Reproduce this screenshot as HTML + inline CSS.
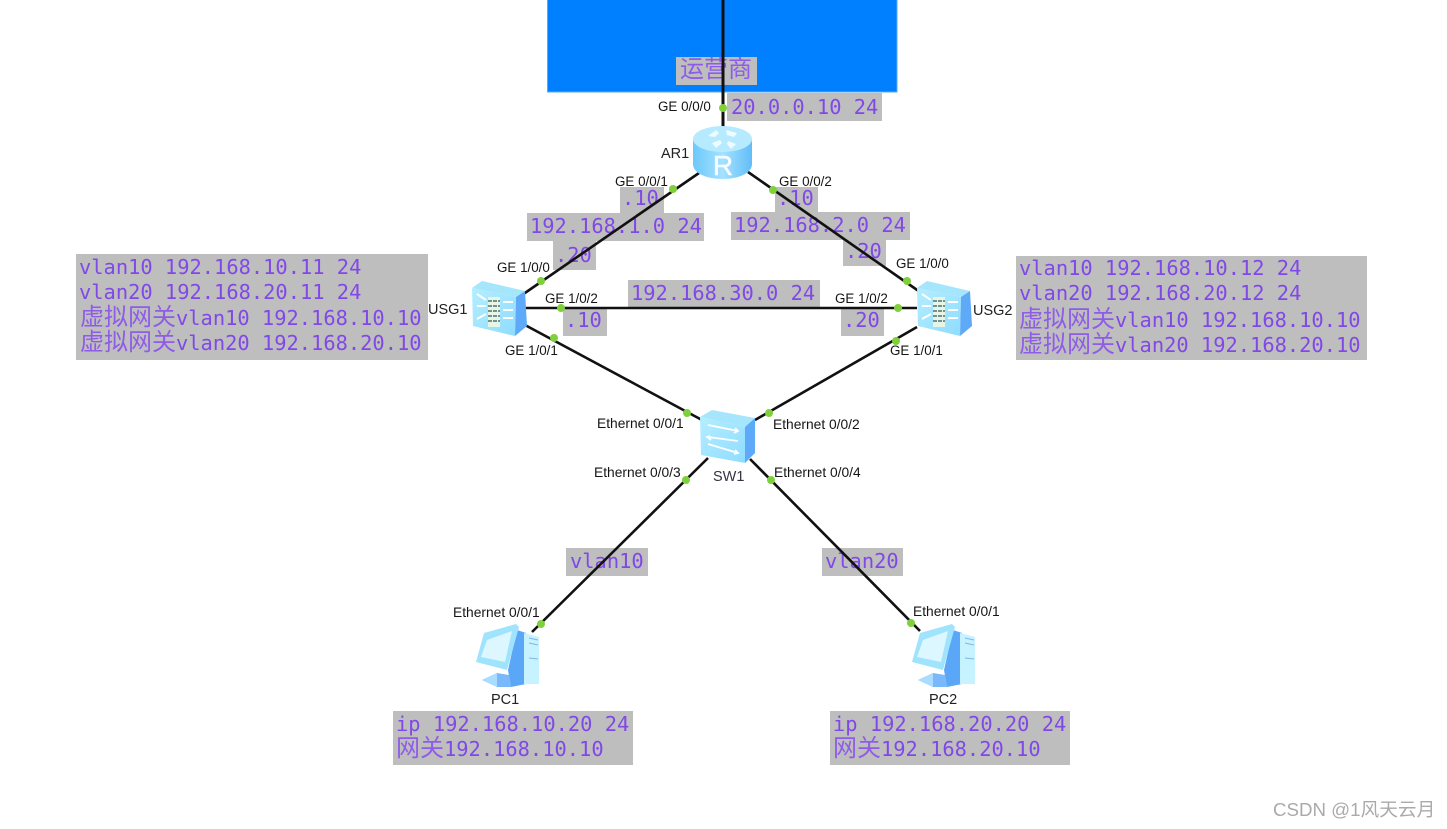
<!DOCTYPE html>
<html>
<head>
<meta charset="utf-8">
<style>
html,body{margin:0;padding:0;background:#fff;width:1447px;height:829px;overflow:hidden}
svg{display:block}
.m{font-family:"DejaVu Sans Mono","Noto Sans CJK SC",monospace;font-size:20.4px;fill:#8148e8}
.c{font-family:"Noto Sans CJK SC","WenQuanYi Zen Hei",sans-serif;font-size:24px;fill:#8f5ce8}
.l{font-family:"Liberation Sans",sans-serif;font-size:13.4px;fill:#151515}
.e{font-family:"Liberation Sans",sans-serif;font-size:13.8px;fill:#151515}
.n{font-family:"Liberation Sans",sans-serif;font-size:14.500px;fill:#222}
.w{font-family:"Liberation Sans","Noto Sans CJK SC",sans-serif;font-size:18.700px;fill:#aaa}
</style>
</head>
<body>
<svg width="1447" height="829" viewBox="0 0 1447 829" xmlns="http://www.w3.org/2000/svg">
<defs>
<linearGradient id="rs" x1="0" x2="1" y1="0" y2="0"><stop offset="0" stop-color="#6cc8fb"/><stop offset=".5" stop-color="#a4e2ff"/><stop offset="1" stop-color="#62bdf8"/></linearGradient>
<linearGradient id="ff" x1="0" x2="1" y1="0" y2="1"><stop offset="0" stop-color="#b4eeff"/><stop offset="1" stop-color="#8fdcff"/></linearGradient>
<g id="usg">
<polygon points="0,7 10,0 53,10 44,16" fill="#a5e6fc"/>
<polygon points="0,7 44,16 43,55 1,45" fill="url(#ff)"/>
<polygon points="44,16 53,10 55,45 43,55" fill="#5ea9f8"/>
<rect x="16" y="16" width="12" height="30" fill="#e6f5e6"/>
<path d="M16 20h12M16 25h12M16 30h12M16 35h12M16 40h12" stroke="#76918c" stroke-width="2" stroke-dasharray="4 1"/>
<path d="M5 13l9 6M5 25h9M5 38l9-5M31 21h10M31 29h10M31 37h10" stroke="#fff" stroke-width="2" fill="none"/>
</g>
<g id="pc">
<polygon points="53,15 62,18 62,69 47,72 44,55" fill="#5aa6f7"/>
<polygon points="60,18 75,22 75,69 60,69" fill="#c6f3ff"/>
<path d="M65 23l9 2M65 28l9 2M65 43l9 1" stroke="#7fb8e8" stroke-width="1"/>
<polygon points="18,65 33,58 45,60 47,72 33,72" fill="#79b9fb"/>
<polygon points="18,65 33,58 33,72" fill="#a9dcff"/>
<polygon points="20,18 52,9 55,12 43,55 12,47" fill="#9fe3fd"/>
<polygon points="23,25 48,16 41,47 17,42" fill="#dcf7ff"/>
</g>
</defs>

<rect width="1447" height="829" fill="#fff"/>
<rect x="547.500" y="-2" width="349.500" height="94" fill="#0080ff" stroke="#5aa8f8" stroke-width="1"/>

<g fill="#bebebe">
<rect x="676" y="57" width="81" height="28"/>
<rect x="727" y="93" width="155" height="28"/>
<rect x="620" y="187" width="44" height="26"/>
<rect x="527" y="213" width="177" height="28"/>
<rect x="553" y="241" width="43" height="29"/>
<rect x="775" y="187" width="43" height="25"/>
<rect x="731" y="212" width="179" height="28"/>
<rect x="843" y="240" width="43" height="26"/>
<rect x="76" y="254" width="352" height="106"/>
<rect x="1016" y="256" width="351" height="104"/>
<rect x="563" y="309" width="44" height="27"/>
<rect x="628" y="280" width="192" height="28"/>
<rect x="841" y="309" width="43" height="27"/>
<rect x="566" y="548" width="82" height="28"/>
<rect x="822" y="548" width="81" height="28"/>
<rect x="393" y="711" width="240" height="54"/>
<rect x="830" y="711" width="240" height="54"/>
</g>

<g>
<text class="c" x="680" y="77">运营商</text>
<text class="m" x="731" y="114">20.0.0.10 24</text>
<text class="m" x="622" y="205">.10</text>
<text class="m" x="530" y="233">192.168.1.0 24</text>
<text class="m" x="555" y="262">.20</text>
<text class="m" x="777" y="205">.10</text>
<text class="m" x="734" y="232">192.168.2.0 24</text>
<text class="m" x="845" y="258">.20</text>
<text class="m" x="631" y="300">192.168.30.0 24</text>
<text class="m" x="565" y="327">.10</text>
<text class="m" x="843" y="327">.20</text>

<text class="m" x="79" y="274">vlan10 192.168.10.11 24</text>
<text class="m" x="79" y="299">vlan20 192.168.20.11 24</text>
<text class="m" x="80" y="325"><tspan class="c">虚拟网关</tspan>vlan10 192.168.10.10</text>
<text class="m" x="80" y="350"><tspan class="c">虚拟网关</tspan>vlan20 192.168.20.10</text>

<text class="m" x="1019" y="275">vlan10 192.168.10.12 24</text>
<text class="m" x="1019" y="300">vlan20 192.168.20.12 24</text>
<text class="m" x="1019" y="327"><tspan class="c">虚拟网关</tspan>vlan10 192.168.10.10</text>
<text class="m" x="1019" y="352"><tspan class="c">虚拟网关</tspan>vlan20 192.168.20.10</text>

<text class="m" x="570" y="568">vlan10</text>
<text class="m" x="825" y="568">vlan20</text>
<text class="m" x="396" y="731">ip 192.168.10.20 24</text>
<text class="m" x="396" y="756"><tspan class="c">网关</tspan>192.168.10.10</text>
<text class="m" x="833" y="731">ip 192.168.20.20 24</text>
<text class="m" x="833" y="756"><tspan class="c">网关</tspan>192.168.20.10</text>
</g>

<g stroke="#111" stroke-width="2.600" fill="none">
<line x1="723" y1="0" x2="723" y2="130" stroke-width="3"/>
<line x1="699" y1="173" x2="522" y2="295"/>
<line x1="748" y1="172" x2="920" y2="292"/>
<line x1="525" y1="308" x2="917" y2="308"/>
<line x1="525" y1="325" x2="702" y2="420"/>
<line x1="917" y1="327" x2="755" y2="420"/>
<line x1="708" y1="458" x2="532" y2="632"/>
<line x1="750" y1="459" x2="920" y2="631"/>
</g>

<!-- Router -->
<g>
<path d="M693 139v25c0 9 13 15 29.500 15s29.500-6 29.500-15v-25z" fill="url(#rs)"/>
<ellipse cx="722.500" cy="139" rx="29.500" ry="13" fill="#b6ebff"/>
<path d="M708 136l8-6 3 3-4 4zM726 130l11 3-3 4-7-2zM712 143l8-3 2 3-6 5zM728 141l8 3-5 5-4-5z" fill="#f0fbff"/>
<text x="723" y="175" text-anchor="middle" font-family="Liberation Sans,sans-serif" font-size="28" fill="#f6fcff" stroke="#f6fcff" stroke-width=".5">R</text>
</g>

<use href="#usg" x="472" y="281"/>
<use href="#usg" x="917" y="281"/>

<!-- Switch -->
<g>
<polygon points="700,417 712,410 755,418 745,427" fill="#a5e6fc"/>
<polygon points="700,417 745,427 745,463 701,455" fill="url(#ff)"/>
<polygon points="745,427 755,418 755,453 745,463" fill="#5ea9f8"/>
<path d="M708 425l30 6M708 437l30 4M708 444l30 9M710 436l-3 1 4 3M735 428l3 3-4 2M735 450l3 3-4 1" stroke="#fff" stroke-width="1.800" fill="none"/>
</g>

<use href="#pc" x="464" y="615"/>
<use href="#pc" x="900" y="615"/>

<g fill="#7fd13b">
<circle cx="723" cy="108" r="4"/>
<circle cx="673" cy="189" r="4"/>
<circle cx="773" cy="190" r="4"/>
<circle cx="541" cy="281" r="4"/>
<circle cx="907" cy="281" r="4"/>
<circle cx="561" cy="308" r="4"/>
<circle cx="898" cy="308" r="4"/>
<circle cx="554" cy="338" r="4"/>
<circle cx="896" cy="341" r="4"/>
<circle cx="687" cy="413" r="4"/>
<circle cx="769" cy="413" r="4"/>
<circle cx="686" cy="480" r="4"/>
<circle cx="771" cy="480" r="4"/>
<circle cx="541" cy="624" r="4"/>
<circle cx="911" cy="623" r="4"/>
</g>

<g>
<text class="l" x="658" y="111">GE 0/0/0</text>
<text class="l" x="615" y="186">GE 0/0/1</text>
<text class="l" x="779" y="186">GE 0/0/2</text>
<text class="l" x="497" y="272">GE 1/0/0</text>
<text class="l" x="896" y="268">GE 1/0/0</text>
<text class="l" x="545" y="303">GE 1/0/2</text>
<text class="l" x="835" y="303">GE 1/0/2</text>
<text class="l" x="505" y="355">GE 1/0/1</text>
<text class="l" x="890" y="355">GE 1/0/1</text>
<text class="e" x="597" y="428">Ethernet 0/0/1</text>
<text class="e" x="773" y="429">Ethernet 0/0/2</text>
<text class="e" x="594" y="477">Ethernet 0/0/3</text>
<text class="e" x="774" y="477">Ethernet 0/0/4</text>
<text class="e" x="453" y="617">Ethernet 0/0/1</text>
<text class="e" x="913" y="616">Ethernet 0/0/1</text>
</g>
<text class="n" x="661" y="158">AR1</text>
<text class="n" x="428" y="314">USG1</text>
<text class="n" x="973" y="315">USG2</text>
<text class="n" x="713" y="481" style="fill:#334">SW1</text>
<text class="n" x="491" y="704">PC1</text>
<text class="n" x="929" y="704">PC2</text>

<text class="w" x="1273" y="816">CSDN @1风天云月</text>
</svg>
</body>
</html>
